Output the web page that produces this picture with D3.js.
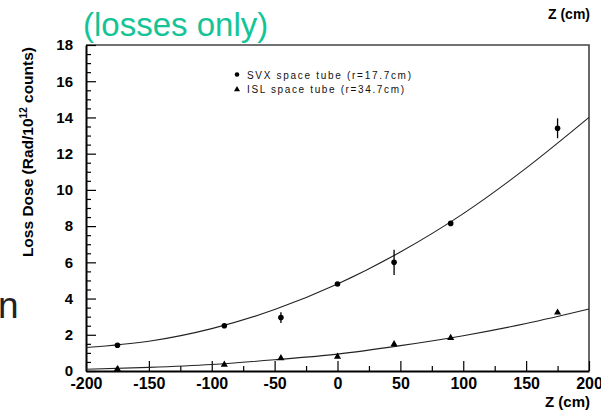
<!DOCTYPE html>
<html>
<head>
<meta charset="utf-8">
<script src="https://cdn.jsdelivr.net/npm/d3@7"></script>
<style>
    body { margin: 0; background: #fff; }
    svg { display: block; }
</style>
</head>
<body>
<svg width="601" height="411"></svg>
<script>
// data
const zPos = [-175, -90, -45, 0, 45, 90, 175];
const svxDose = [1.42, 2.5, 2.95, 4.8, 6.0, 8.15, 13.4];
const svxErr = [0, 0, 0.3, 0, 0.7, 0, 0.55];
const islDose = [0.08, 0.32, 0.68, 0.76, 1.45, 1.8, 3.2];

// fitted curves
const fitZ = [-200, -150, -100, -50, 0, 50, 100, 150, 200];
const svxFit = [1.3, 1.64, 2.34, 3.39, 4.8, 6.57, 8.69, 11.2, 14.0];
const islFit = [0.1, 0.2, 0.36, 0.62, 0.93, 1.4, 1.95, 2.62, 3.42];

const xMajor = [-200, -150, -100, -50, 0, 50, 100, 150, 200];
const xMinor = [-175, -125, -75, -25, 25, 75, 125, 175];
const yMajor = [0, 2, 4, 6, 8, 10, 12, 14, 16, 18];
const yMinor = d3.range(0, 18.01, 0.5).filter((v) => v % 2 !== 0);

const legendLabels = ['SVX space tube (r=17.7cm)', 'ISL space tube (r=34.7cm)'];

const svg = d3.select('svg');
const font = '"Liberation Sans", Arial, sans-serif';

const x = d3.scaleLinear().domain([-200, 200]).range([86, 589]);
const y = d3.scaleLinear().domain([0, 18]).range([371, 45]);

// frame (top/right)
svg.append('path')
    .attr('d', `M${x(-200)},${y(18)}H${x(200)}V${y(0)}`)
    .attr('fill', 'none')
    .attr('stroke', '#444')
    .attr('stroke-width', 1.6);

// minor ticks
svg.append('g')
    .attr('transform', `translate(0,${y(0)})`)
    .call(d3.axisBottom(x).tickValues(xMinor).tickSize(-5).tickFormat(''))
    .call((g) => g.select('.domain').remove());
svg.append('g')
    .attr('transform', `translate(${x(-200)},0)`)
    .call(d3.axisLeft(y).tickValues(yMinor).tickSize(-5).tickFormat(''))
    .call((g) => g.select('.domain').remove());

// major ticks + labels (plain hyphen, not the unicode minus)
const xAxis = svg.append('g')
    .attr('transform', `translate(0,${y(0)})`)
    .call(d3.axisBottom(x).tickValues(xMajor).tickSize(-10).tickSizeOuter(0).tickPadding(7)
        .tickFormat((d) => String(d)));
xAxis.selectAll('text')
    .attr('font-family', font).attr('font-weight', 'bold').attr('font-size', 16).attr('fill', '#000');

const yAxis = svg.append('g')
    .attr('transform', `translate(${x(-200)},0)`)
    .call(d3.axisLeft(y).tickValues(yMajor).tickSize(-10).tickSizeOuter(0).tickPadding(13));
yAxis.selectAll('text')
    .attr('font-family', font).attr('font-weight', 'bold').attr('font-size', 15).attr('fill', '#000');

svg.selectAll('.tick line').attr('stroke', '#000').attr('stroke-width', 1.2);
svg.selectAll('.domain').attr('stroke', '#000').attr('stroke-width', 2);

// fit curves
const line = d3.line()
    .x((d) => x(d[0]))
    .y((d) => y(d[1]))
    .curve(d3.curveMonotoneX);

[svxFit, islFit].forEach((fit) => {
    svg.append('path')
        .attr('d', line(fitZ.map((z, i) => [z, fit[i]])))
        .attr('fill', 'none')
        .attr('stroke', '#222')
        .attr('stroke-width', 1.1);
});

// error bars
svg.append('g')
    .selectAll('line')
    .data(zPos.map((z, i) => ({ z, v: svxDose[i], e: svxErr[i] })).filter((d) => d.e > 0))
    .join('line')
    .attr('x1', (d) => x(d.z))
    .attr('x2', (d) => x(d.z))
    .attr('y1', (d) => y(d.v - d.e))
    .attr('y2', (d) => y(d.v + d.e))
    .attr('stroke', '#000')
    .attr('stroke-width', 1.3);

// markers
const tri = d3.symbol().type(d3.symbolTriangle).size(22);

svg.append('g')
    .selectAll('circle')
    .data(zPos.map((z, i) => [z, svxDose[i]]))
    .join('circle')
    .attr('cx', (d) => x(d[0]))
    .attr('cy', (d) => y(d[1]))
    .attr('r', 2.8)
    .attr('fill', '#000');

svg.append('g')
    .selectAll('path')
    .data(zPos.map((z, i) => [z, islDose[i]]))
    .join('path')
    .attr('d', tri)
    .attr('transform', (d) => `translate(${x(d[0])},${y(d[1]) - 0.5})`)
    .attr('fill', '#000');

// legend
const legend = svg.append('g').attr('font-family', font).attr('font-size', 10).attr('fill', '#111');
legend.append('circle').attr('cx', 237).attr('cy', 74.5).attr('r', 2.3).attr('fill', '#000');
legend.append('path').attr('d', d3.symbol().type(d3.symbolTriangle).size(16))
    .attr('transform', 'translate(237,89.5)').attr('fill', '#000');
legend.append('text').attr('x', 247).attr('y', 78.5)
    .attr('textLength', 164).attr('lengthAdjust', 'spacing').text(legendLabels[0]);
legend.append('text').attr('x', 247).attr('y', 93)
    .attr('textLength', 157).attr('lengthAdjust', 'spacing').text(legendLabels[1]);

// axis titles
svg.append('text')
    .attr('x', 590).attr('y', 19)
    .attr('text-anchor', 'end')
    .attr('font-family', font).attr('font-weight', 'bold').attr('font-size', 14)
    .text('Z (cm)');
svg.append('text')
    .attr('x', 590).attr('y', 407)
    .attr('text-anchor', 'end')
    .attr('font-family', font).attr('font-weight', 'bold').attr('font-size', 15)
    .text('Z (cm)');

const yTitle = svg.append('text')
    .attr('transform', 'translate(33,47) rotate(-90)')
    .attr('text-anchor', 'end')
    .attr('font-family', font).attr('font-weight', 'bold').attr('font-size', 15.5);
yTitle.append('tspan').text('Loss Dose (Rad/10');
yTitle.append('tspan').attr('dy', -6).attr('font-size', 10).text('12');
yTitle.append('tspan').attr('dy', 6).text(' counts)');

// slide leftovers
svg.append('text')
    .attr('x', 83).attr('y', 36)
    .attr('font-family', font).attr('font-size', 33)
    .attr('fill', '#14c497')
    .text('(losses only)');
svg.append('text')
    .attr('x', -2).attr('y', 318)
    .attr('font-family', font).attr('font-size', 37)
    .attr('fill', '#222')
    .text('n');
</script>
</body>
</html>
